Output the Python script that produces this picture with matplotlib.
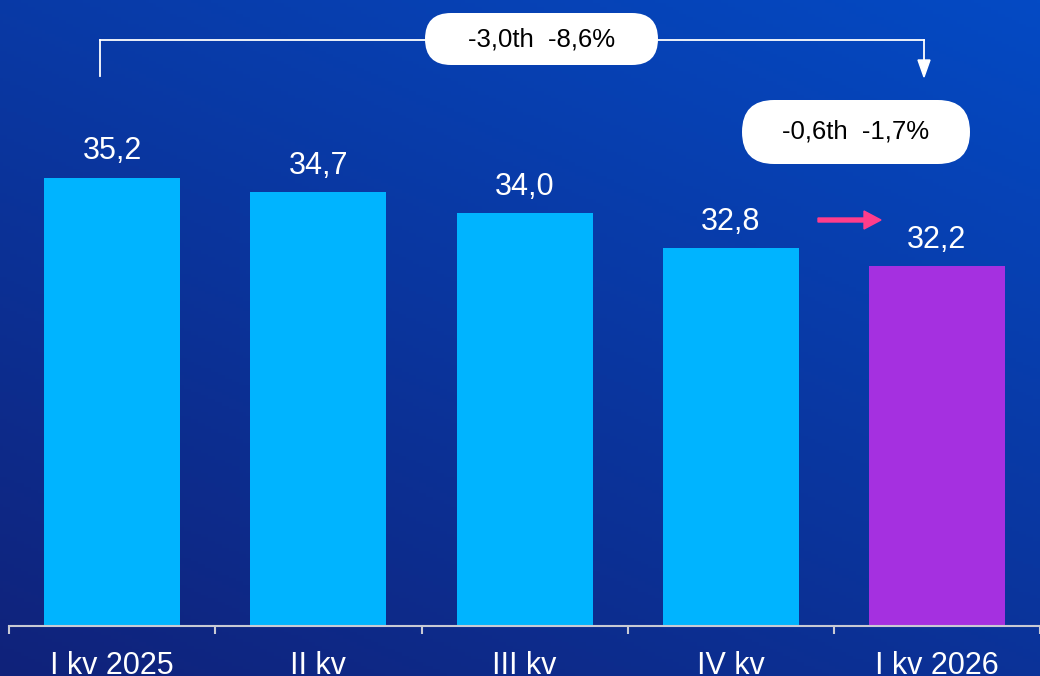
import numpy as np
import matplotlib
matplotlib.use("Agg")
import matplotlib.pyplot as plt
from matplotlib.patches import FancyBboxPatch, Polygon
from matplotlib.transforms import IdentityTransform

plt.rcParams['font.family'] = ['Liberation Sans', 'DejaVu Sans']

# dati
quarters = ["I kv 2025", "II kv", "III kv", "IV kv", "I kv 2026"]
values = [35.2, 34.7, 34.0, 32.8, 32.2]
labels = ["35,2", "34,7", "34,0", "32,8", "32,2"]
total_change = "-3,0th  -8,6%"
last_change = "-0,6th  -1,7%"

W, H = 1040, 676
fig = plt.figure(figsize=(W / 100, H / 100), dpi=100)

# sfondo sfumato
bg = fig.add_axes([0, 0, 1, 1])
yy, xx = np.mgrid[0:1:200j, 0:1:300j]
c_bl = np.array([0x10, 0x22, 0x7a]) / 255
c_tr = np.array([0x04, 0x4a, 0xc4]) / 255
t = np.clip((xx * 0.55 + yy * 0.8) / 1.35, 0, 1)[..., None]
grad = c_bl * (1 - t) + c_tr * t
bg.imshow(grad, origin='lower', extent=[0, 1, 0, 1], aspect='auto')
bg.axis('off')

step = 207.5
ax = fig.add_axes([0, 50 / H, 1, 626 / H])
ax.patch.set_alpha(0)
x = np.arange(len(quarters))
colors = ['#00b4ff'] * 4 + ['#a530e0']
ax.bar(x, values, width=0.66, color=colors, bottom=0, zorder=2)
ax.set_xlim((0 - 113) / step, (W - 113) / step)
ax.set_ylim(20, 20 + 626 / 29.5)

for xi, v, lab in zip(x, values, labels):
    ax.annotate(lab, (xi, v), xytext=(0, 8), textcoords='offset points',
                ha='center', va='bottom', color='white', fontsize=22)

for s in ['top', 'right', 'left']:
    ax.spines[s].set_visible(False)
ax.spines['bottom'].set_color('#c8cad4')
ax.spines['bottom'].set_linewidth(1.5)
ax.spines['bottom'].set_bounds(-0.5, 5)
ax.set_yticks([])
ax.set_xticks(x)
ax.set_xticklabels(quarters, color='white', fontsize=22)
ax.tick_params(axis='x', which='major', length=0, pad=18)
ax.set_xticks(np.arange(-0.5, 5, 1), minor=True)
ax.tick_params(axis='x', which='minor', length=6, width=1.5, color='#c8cad4')

# disegno in pixel (origine in alto a sinistra)
pix = IdentityTransform()
def P(xp, yp):
    return (xp, H - yp)

lw = 1.3
for (xa, ya), (xb, yb) in [((100, 76), (100, 40)), ((100, 40), (924, 40)), ((924, 40), (924, 62))]:
    fig.add_artist(plt.Line2D([xa, xb], [H - ya, H - yb], color='white', lw=lw,
                              transform=pix))
fig.add_artist(Polygon([P(918, 60), P(930, 60), P(924, 77)], closed=True,
                       color='white', transform=pix))

def pill(x0, y0, x1, y1, text):
    r = (y1 - y0) / 2
    box = FancyBboxPatch((x0 + r, H - y1), (x1 - x0) - 2 * r, (y1 - y0),
                         boxstyle=f"round,pad={r},rounding_size={r}",
                         facecolor='white', edgecolor='none', transform=pix, zorder=5)
    # pad allarga il box, quindi lo riduciamo in verticale
    box.set_bounds(x0 + r, H - y1 + r, (x1 - x0) - 2 * r, 0.001)
    fig.add_artist(box)
    fig.text((x0 + x1) / 2 / W, 1 - (y0 + y1) / 2 / H, text, ha='center', va='center',
             fontsize=18.5, color='black', zorder=6)

pill(425, 13, 658, 65, total_change)
pill(742, 100, 970, 164, last_change)

# freccia rosa
pink = '#ff3d8b'
fig.add_artist(Polygon([P(818, 218), P(864, 218), P(864, 211), P(881, 220),
                        P(864, 229), P(864, 222), P(818, 222)], closed=True,
                       color=pink, transform=pix))

fig.savefig('out.png', dpi=100)
